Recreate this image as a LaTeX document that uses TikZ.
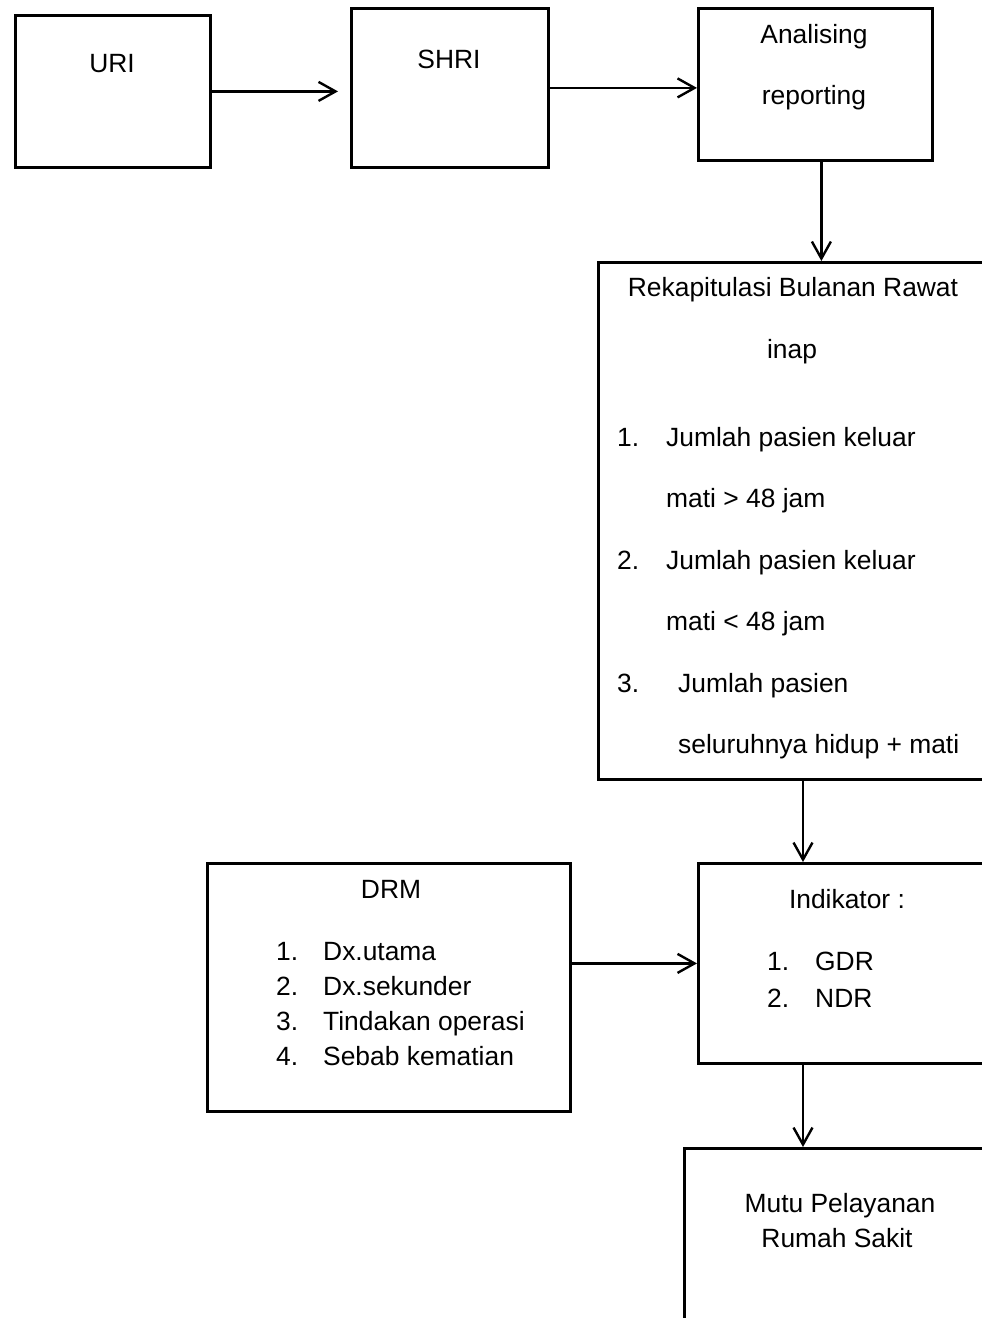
\documentclass[tikz,border=0pt]{standalone}
\usepackage{fontspec}
\setmainfont{Liberation Sans}
\usetikzlibrary{arrows.meta}
\begin{document}
\begin{tikzpicture}[x=1pt,y=-1pt,
  box/.style={draw,line width=2.8pt,rectangle,inner sep=0pt,anchor=north west},
  txt/.style={inner sep=0pt,anchor=base,font=\fontsize{26.4}{30}\selectfont},
  lft/.style={txt,anchor=base west},
  arr/.style={line width=2.4pt,-{Straight Barb[length=17pt,width=19pt,line width=2.4pt]}}]
\useasboundingbox (0,0) rectangle (982,1318);
\clip (0,0) rectangle (982,1318);
% boxes
\node[box,minimum width=195pt,minimum height=152pt] (uri) at (14,14) {};
\node[box,minimum width=197pt,minimum height=159pt] (shri) at (350,7) {};
\node[box,minimum width=234pt,minimum height=152pt] (ana) at (697,7) {};
\node[box,minimum width=420pt,minimum height=517pt] (rekap) at (597,261) {};
\node[box,minimum width=363pt,minimum height=248pt] (drm) at (206,862) {};
\node[box,minimum width=320pt,minimum height=200pt] (ind) at (697,862) {};
\node[box,minimum width=340pt,minimum height=260pt] (mutu) at (683,1147) {};
% texts
\node[txt] (turi) at (112,72) {URI};
\node[txt] (tshri) at (449,68) {SHRI};
\node[txt] (tana1) at (814,43) {Analising};
\node[txt] (tana2) at (814,104) {reporting};
\node[txt] (trek1) at (793,296) {Rekapitulasi Bulanan Rawat};
\node[txt] (trek2) at (792,358) {inap};
\node[lft] (n1) at (617,446) {1.};
\node[lft] (r1) at (666,446) {Jumlah pasien keluar};
\node[lft] (r2) at (666,507) {mati > 48 jam};
\node[lft] (n2) at (617,569) {2.};
\node[lft] (r3) at (666,569) {Jumlah pasien keluar};
\node[lft] (r4) at (666,630) {mati < 48 jam};
\node[lft] (n3) at (617,692) {3.};
\node[lft] (r5) at (678,692) {Jumlah pasien};
\node[lft] (r6) at (678,753) {seluruhnya hidup + mati};
\node[txt] (tdrm) at (391,898) {DRM};
\node[lft] (d1) at (276,960) {1.};
\node[lft] (d2) at (276,995) {2.};
\node[lft] (d3) at (276,1030) {3.};
\node[lft] (d4) at (276,1065) {4.};
\node[lft] (e1) at (323,960) {Dx.utama};
\node[lft] (e2) at (323,995) {Dx.sekunder};
\node[lft] (e3) at (323,1030) {Tindakan operasi};
\node[lft] (e4) at (323,1065) {Sebab kematian};
\node[txt] (tind) at (847,908) {Indikator :};
\node[lft] (g1) at (767,970) {1.};
\node[lft] (g2) at (767,1007) {2.};
\node[lft] (h1) at (815,970) {GDR};
\node[lft] (h2) at (815,1007) {NDR};
\node[txt] (tmutu1) at (840,1212) {Mutu Pelayanan};
\node[txt] (tmutu2) at (837,1247) {Rumah Sakit};
% connectors
\draw[arr] (uri.east) -- ([xshift=-12pt]shri.west |- uri.east);
\draw[arr] (shri.east) -- (ana.west |- shri.east);
\draw[arr] ([xshift=6pt]ana.south) -- ([xshift=6pt]ana.south |- rekap.north);
\draw[arr] ([xshift=206pt]rekap.south west) -- ([xshift=106pt]ind.north west);
\draw[arr] (drm.east |- ind.west) -- (ind.west);
\draw[arr] ([xshift=106pt]ind.south west) -- ([xshift=106pt]ind.south west |- mutu.north);
\end{tikzpicture}
\end{document}
